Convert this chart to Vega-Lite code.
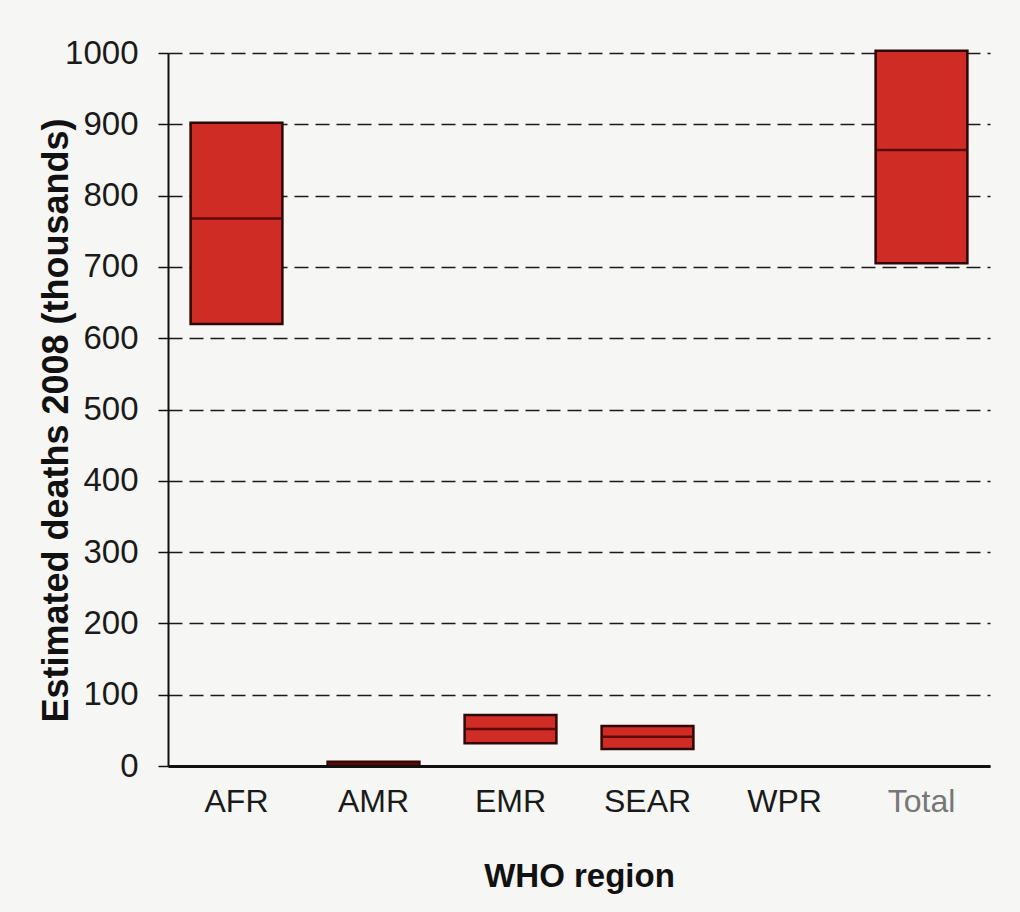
{
  "$schema": "https://vega.github.io/schema/vega-lite/v6.json",
  "autosize": {"type": "none"},
  "padding": {"left": 168, "top": 53, "right": 30, "bottom": 146},
  "width": 822,
  "height": 713,
  "background": "#f6f6f4",
  "config": {
    "view": {"stroke": null},
    "font": "Liberation Sans"
  },
  "data": {
    "values": [
      {"region": "AFR", "low": 620, "high": 902, "median": 768},
      {"region": "AMR", "low": 0.5, "high": 6, "median": 3},
      {"region": "EMR", "low": 32, "high": 71.5, "median": 52},
      {"region": "SEAR", "low": 24, "high": 56, "median": 41},
      {"region": "WPR", "low": 0, "high": 0, "median": 0},
      {"region": "Total", "low": 705, "high": 1003, "median": 864}
    ]
  },
  "encoding": {
    "x": {
      "field": "region",
      "type": "nominal",
      "sort": null,
      "scale": {"paddingInner": 0.33, "paddingOuter": 0.165},
      "axis": {
        "title": "WHO region",
        "labelAngle": 0,
        "labelFont": "Liberation Sans",
        "labelFontSize": 32,
        "labelColor": {"expr": "datum.value === 'Total' ? '#777777' : '#1a1a1a'"},
        "labelPadding": 20,
        "ticks": false,
        "domainColor": "#111111",
        "domainWidth": 3,
        "titleFont": "Liberation Sans",
        "titleFontSize": 33,
        "titleFontWeight": "bold",
        "titleColor": "#111111",
        "titleBaseline": "alphabetic",
        "titleY": 120,
        "zindex": 1
      }
    }
  },
  "layer": [
    {
      "mark": {"type": "bar", "color": "#cf2c25", "stroke": "#2e0806", "strokeWidth": 2.5},
      "encoding": {
        "y": {
          "field": "low",
          "type": "quantitative",
          "scale": {"domain": [0, 1000], "nice": false},
          "axis": {
            "title": "Estimated deaths 2008 (thousands)",
            "values": [0, 100, 200, 300, 400, 500, 600, 700, 800, 900, 1000],
            "format": "d",
            "labelFont": "Liberation Sans",
            "labelFontSize": 33,
            "labelColor": "#1a1a1a",
            "labelPadding": 20,
            "tickSize": 10,
            "tickColor": "#111111",
            "tickWidth": 1.5,
            "domainColor": "#111111",
            "domainWidth": 2,
            "grid": true,
            "gridColor": "#1a1a1a",
            "gridWidth": 1.6,
            "gridDash": [14, 7],
            "titleFont": "Liberation Sans",
            "titleFontSize": 36,
            "titleFontWeight": "bold",
            "titleColor": "#111111",
            "titleAngle": -90,
            "titleBaseline": "middle",
            "titleX": -112,
            "titleY": 367
          }
        },
        "y2": {"field": "high"},
        "opacity": {"condition": {"test": "datum.high == 0", "value": 0}, "value": 1}
      }
    },
    {
      "mark": {"type": "tick", "color": "#5e0808", "thickness": 2.5, "size": 90},
      "encoding": {
        "y": {"field": "median", "type": "quantitative"},
        "opacity": {"condition": {"test": "datum.high == 0", "value": 0}, "value": 1}
      }
    }
  ]
}
